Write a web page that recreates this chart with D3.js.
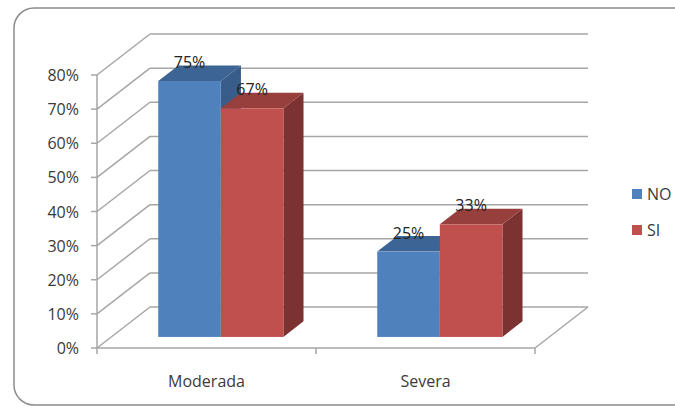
<!DOCTYPE html>
<html>
<head>
<meta charset="utf-8">
<script src="https://cdn.jsdelivr.net/npm/d3@7"></script>
<style>
  body { margin: 0; background: #fff; }
  svg text { font-family: "Open Sans", sans-serif; }
</style>
</head>
<body>
<div id="canvas"></div>
<script>
let categories = ["Moderada", "Severa"];
let seriesNames = ["NO", "SI"];
let valuesNO = [0.75, 0.25];
let valuesSI = [0.67, 0.33];
let tickValues = [0, 0.1, 0.2, 0.3, 0.4, 0.5, 0.6, 0.7, 0.8];

let width = 675;
let height = 409;
let fontSize = 16;

// front face colour, top colour, side colour
const colors = {
    NO: ["#4f81bd", "#3c6494", "#385d8a"],
    SI: ["#c0504d", "#973f3d", "#7b3230"]
};

// depth of the whole plot (front axis -> back wall)
let depth = [53, -41];
// where bars start and how deep they are, as a fraction of depth
let barStart = 0.27;
let barDepth = 0.38;

let svg = d3.select("#canvas")
    .append("svg")
    .attr("width", width)
    .attr("height", height);

// chart border
svg.append("rect")
    .attr("x", 14).attr("y", 8)
    .attr("width", 700).attr("height", 397)
    .attr("rx", 20)
    .attr("fill", "none")
    .attr("stroke", "#8c8c8c")
    .attr("stroke-width", 1.5);

const x = d3.scaleBand()
    .domain(categories)
    .range([97, 535]);

const xs = d3.scaleBand()
    .domain(seriesNames)
    .range([0, x.bandwidth()])
    .paddingOuter(0.75);

const y = d3.scaleLinear()
    .domain([0, 0.8])
    .range([348, 75]);

let grid = svg.append("g")
    .attr("stroke", "#a6a6a6")
    .attr("stroke-width", 1.5)
    .attr("fill", "none");

let x0 = x.range()[0], x1 = x.range()[1];

// back wall gridlines + diagonals
tickValues.forEach(v => {
    grid.append("line")
        .attr("x1", x0).attr("y1", y(v))
        .attr("x2", x0 + depth[0]).attr("y2", y(v) + depth[1]);
    grid.append("line")
        .attr("x1", x0 + depth[0]).attr("y1", y(v) + depth[1])
        .attr("x2", x1 + depth[0]).attr("y2", y(v) + depth[1]);
});

// floor: front edge and right edge
grid.append("line")
    .attr("x1", x0).attr("y1", y(0))
    .attr("x2", x1).attr("y2", y(0));
grid.append("line")
    .attr("x1", x1).attr("y1", y(0))
    .attr("x2", x1 + depth[0]).attr("y2", y(0) + depth[1]);

// vertical axis line
grid.append("line")
    .attr("x1", x0).attr("y1", y(0.8))
    .attr("x2", x0).attr("y2", y(0));

// y ticks
tickValues.forEach(v => {
    grid.append("line")
        .attr("x1", x0 - 6).attr("y1", y(v))
        .attr("x2", x0).attr("y2", y(v));
});

// x ticks
[x0, x0 + x.step(), x1].forEach(t => {
    grid.append("line")
        .attr("x1", t).attr("y1", y(0))
        .attr("x2", t).attr("y2", y(0) + 6);
});

// y labels
svg.append("g").selectAll("text")
    .data(tickValues)
    .join("text")
    .attr("x", 79)
    .attr("y", d => y(d) + 6)
    .attr("text-anchor", "end")
    .attr("font-size", fontSize)
    .attr("fill", "#3a3a3a")
    .text(d => Math.round(d * 100) + "%");

// category labels
svg.append("g").selectAll("text")
    .data(categories)
    .join("text")
    .attr("x", d => x(d) + x.bandwidth() / 2)
    .attr("y", 387)
    .attr("text-anchor", "middle")
    .attr("font-size", fontSize)
    .attr("fill", "#3a3a3a")
    .text(d => d);

// bars
let bars = [];
categories.forEach((c, i) => {
    bars.push({ cat: c, name: "NO", value: valuesNO[i] });
    bars.push({ cat: c, name: "SI", value: valuesSI[i] });
});

let ox = depth[0] * barStart, oy = depth[1] * barStart;
let dx = depth[0] * barDepth, dy = depth[1] * barDepth;

let barG = svg.append("g");
bars.forEach(b => {
    let left = x(b.cat) + xs(b.name) + ox;
    let right = left + xs.bandwidth();
    let top = y(b.value) + oy;
    let bottom = y(0) + oy;
    let col = colors[b.name];
    // side
    barG.append("path")
        .attr("d", `M${right},${top}L${right + dx},${top + dy}L${right + dx},${bottom + dy}L${right},${bottom}Z`)
        .attr("fill", col[2]);
    // top
    barG.append("path")
        .attr("d", `M${left},${top}L${left + dx},${top + dy}L${right + dx},${top + dy}L${right},${top}Z`)
        .attr("fill", col[1]);
    // front
    barG.append("rect")
        .attr("x", left).attr("y", top)
        .attr("width", right - left).attr("height", bottom - top)
        .attr("fill", col[0]);
    // value label
    barG.append("text")
        .attr("x", (left + right) / 2)
        .attr("y", top - 13)
        .attr("text-anchor", "middle")
        .attr("font-size", fontSize)
        .attr("fill", "#222")
        .text(Math.round(b.value * 100) + "%");
});

// legend
let legend = svg.append("g").selectAll("g")
    .data(seriesNames)
    .join("g")
    .attr("transform", (d, i) => `translate(632,${189 + i * 36})`);
legend.append("rect")
    .attr("width", 10).attr("height", 10)
    .attr("fill", d => colors[d][0]);
legend.append("text")
    .attr("x", 15).attr("y", 11)
    .attr("font-size", fontSize)
    .attr("fill", "#3a3a3a")
    .text(d => d);
</script>
</body>
</html>
